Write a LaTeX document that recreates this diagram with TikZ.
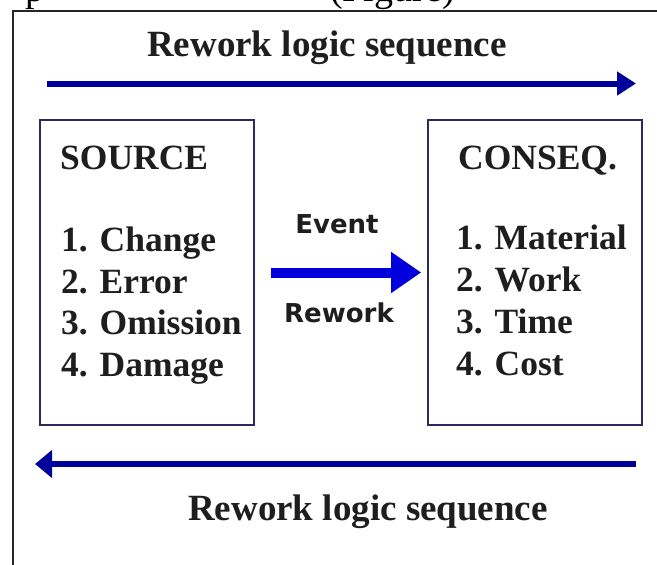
\documentclass[tikz,border=0pt]{standalone}
\usepackage{fontspec}
\setmainfont{Liberation Serif}
\newfontfamily\labelfont{DejaVu Sans}
\usetikzlibrary{arrows.meta}
\definecolor{navyarrow}{HTML}{00009A}
\definecolor{bluearrow}{HTML}{0000DD}
\definecolor{boxline}{HTML}{2A2A60}
\definecolor{inktext}{HTML}{1E1E1E}
\tikzset{
  bigtitle/.style={font=\fontsize{37}{41}\selectfont\bfseries, text=inktext, inner sep=0pt, anchor=base},
  boxhead/.style={font=\fontsize{35.5}{41}\selectfont\bfseries, text=inktext, inner sep=0pt, anchor=base west},
  boxitem/.style={font=\fontsize{35.5}{41}\selectfont\bfseries, text=inktext, inner sep=0pt, anchor=base west},
  midlabel/.style={font=\labelfont\fontsize{26}{30}\selectfont\bfseries, text=inktext, inner sep=0pt, anchor=base},
  framebox/.style={draw=boxline, line width=1.6pt, inner sep=0pt, minimum width=214pt, minimum height=305pt},
  seqarrow/.style={draw=navyarrow, line width=6pt},
  pagetext/.style={font=\fontsize{38}{40}\selectfont, text=black, inner sep=0pt, anchor=base west}
}
\begin{document}
\begin{tikzpicture}[x=1pt,y=-1pt]
\useasboundingbox (0,0) rectangle (657,565);
\begin{scope}
\clip (0,0) rectangle (657,565);
\node[pagetext] (pg1) at (25,1) {p};
\node[pagetext] (pg2) at (330,1) {(Figure)};
\end{scope}
% page frame
\draw[line width=2pt, black!85] (13,565) -- (13,11) -- (657,11);
% titles
\node[bigtitle] (toptitle) at (327,56) {Rework logic sequence};
\node[bigtitle] (bottitle) at (368,520) {Rework logic sequence};
% top and bottom arrows
\coordinate (ta) at (47,83.5);
\coordinate (tb) at (636,83.5);
\draw[seqarrow, -{Triangle[length=19pt,width=23pt]}] (ta) -- (tb);
\coordinate (ba) at (636,464);
\coordinate (bb) at (35,464);
\draw[seqarrow, -{Triangle[length=17pt,width=27pt]}] (ba) -- (bb);
% boxes
\node[framebox] (src) at (147,272.5) {};
\node[framebox] (cons) at (535,272.5) {};
% source text
\node[boxhead] (srch) at (60,169) {SOURCE};
\node[boxitem] (s1) at (61,251) {1. Change};
\node[boxitem] (s2) at (61,293) {2. Error};
\node[boxitem] (s3) at (61,334) {3. Omission};
\node[boxitem] (s4) at (61,376) {4. Damage};
% consequence text
\node[boxhead] (consh) at (458,169) {CONSEQ.};
\node[boxitem] (c1) at (456,249) {1. Material};
\node[boxitem] (c2) at (456,291) {2. Work};
\node[boxitem] (c3) at (456,333) {3. Time};
\node[boxitem] (c4) at (456,375) {4. Cost};
% middle arrow
\node[midlabel] (ev) at (337,233) {Event};
\node[midlabel] (rw) at (339,322) {Rework};
\draw[draw=bluearrow, line width=10pt, -{Triangle[length=30pt,width=39pt]}]
  ([xshift=16pt]src.east) -- ([xshift=-6pt]cons.west);
\end{tikzpicture}
\end{document}
